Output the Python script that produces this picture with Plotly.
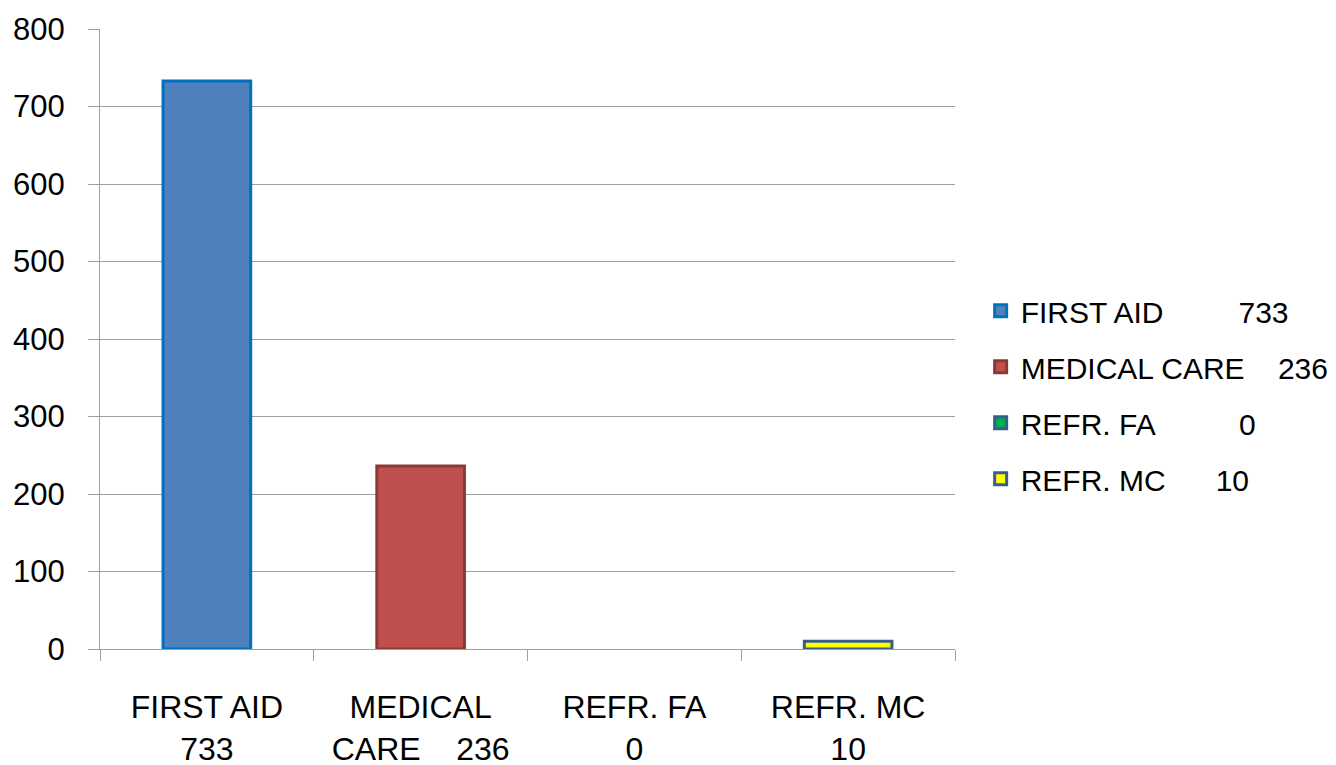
import plotly.graph_objects as go

NB = "\u00a0"
categories = ["FIRST AID<br>733", "MEDICAL<br>CARE" + NB * 4 + "236", "REFR. FA<br>0", "REFR. MC<br>10"]
values = [733, 236, 0, 10]
legend_names = [
    "FIRST AID" + NB * 9 + "733",
    "MEDICAL CARE" + NB * 4 + "236",
    "REFR. FA" + NB * 10 + "0",
    "REFR. MC" + NB * 6 + "10",
]
fill_colors = ["#4F81BD", "#C0504D", "#00B050", "#FFFF00"]
line_colors = ["#0070C0", "#8C3836", "#385D8A", "#385D8A"]

fig = go.Figure()
for i in range(len(values)):
    # the bar itself (zero-height bars drawn without an outline)
    fig.add_trace(go.Bar(
        x=[categories[i]], y=[values[i]], name=legend_names[i],
        width=0.41, legendgroup=f"g{i}", showlegend=False,
        marker=dict(color=fill_colors[i],
                    line=dict(color=line_colors[i], width=3 if values[i] > 0 else 0)),
    ))
    # legend entry
    fig.add_trace(go.Bar(
        x=[categories[i]], y=[None], name=legend_names[i],
        width=0.41, legendgroup=f"g{i}", showlegend=True, hoverinfo="skip",
        marker=dict(color=fill_colors[i], line=dict(color=line_colors[i], width=3)),
    ))

fig.update_layout(
    width=1336, height=765,
    barmode="overlay",
    plot_bgcolor="white", paper_bgcolor="white",
    margin=dict(l=92, r=389, t=21, b=124, autoexpand=False),
    font=dict(family="Liberation Sans, Arial, sans-serif", color="black"),
    legend=dict(
        x=1.03, xref="paper", y=0.41, yanchor="middle",
        font=dict(size=30, family="Liberation Sans, Arial, sans-serif"),
        traceorder="grouped", tracegroupgap=14,
        bgcolor="rgba(0,0,0,0)",
    ),
    xaxis=dict(
        type="category", categoryorder="array", categoryarray=categories,
        showline=True, linecolor="#A0A0A0", linewidth=1,
        ticks="outside", tickson="boundaries", ticklen=11, tickcolor="#A0A0A0",
        tickfont=dict(size=32, family="Liberation Sans Narrow, Arial Narrow, Liberation Sans, sans-serif"),
        ticklabelstandoff=30,
        showgrid=False,
    ),
    yaxis=dict(
        range=[0, 800], dtick=100,
        showline=True, linecolor="#A0A0A0", linewidth=1,
        ticks="outside", ticklen=11, tickcolor="#A0A0A0",
        showgrid=True, gridcolor="#A0A0A0", gridwidth=1,
        zeroline=False,
        tickfont=dict(size=31),
        ticklabelstandoff=17,
    ),
)

fig.write_html("out.html")
